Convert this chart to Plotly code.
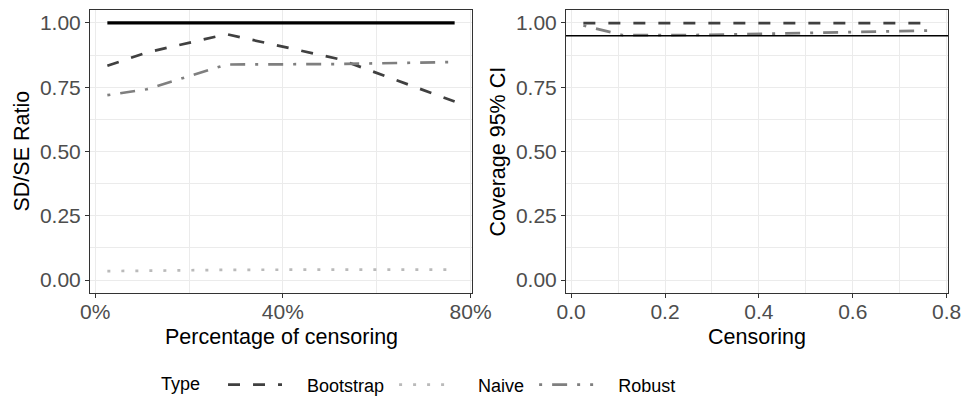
import plotly.graph_objects as go

# ---- data ----
censoring = [0.026, 0.11, 0.28, 0.52, 0.766]
types = ["Bootstrap", "Naive", "Robust"]
ratio_bootstrap = [0.833, 0.885, 0.956, 0.859, 0.694]
ratio_naive = [0.035, 0.037, 0.040, 0.041, 0.041]
ratio_robust = [0.719, 0.742, 0.838, 0.840, 0.848]
ratio_reference = [1.0, 1.0, 1.0, 1.0, 1.0]
cov_bootstrap = [0.999, 0.999, 0.999, 0.999, 0.999]
cov_robust = [0.990, 0.952, 0.953, 0.960, 0.970]
nominal_coverage = 0.95
y_ticks = [0.0, 0.25, 0.5, 0.75, 1.0]
x_ticks_left = [0.0, 0.4, 0.8]
x_ticks_right = [0.0, 0.2, 0.4, 0.6, 0.8]

colors = {"Bootstrap": "#404040", "Naive": "#BABABA", "Robust": "#7F7F7F"}
dashes = {"Bootstrap": "12px,13px", "Naive": "3px,11px", "Robust": "3px,10px,15px,10px"}
LW = 2.7
FONT = "Liberation Sans, Arial, Helvetica, sans-serif"
NB = "\u00a0"

W, H = 963, 406
fig = go.Figure()

left = {"Bootstrap": ratio_bootstrap, "Naive": ratio_naive, "Robust": ratio_robust}
for t in types:
    fig.add_trace(go.Scatter(x=censoring, y=left[t], mode="lines", name=NB * 4 + t + NB,
                             line=dict(color=colors[t], dash=dashes[t], width=LW),
                             xaxis="x", yaxis="y", legendgroup=t))
fig.add_trace(go.Scatter(x=censoring, y=ratio_reference, mode="lines", showlegend=False,
                         line=dict(color="black", width=3.2), xaxis="x", yaxis="y"))

right = {"Bootstrap": cov_bootstrap, "Robust": cov_robust}
for t in ["Bootstrap", "Robust"]:
    fig.add_trace(go.Scatter(x=censoring, y=right[t], mode="lines", name=t, showlegend=False,
                             line=dict(color=colors[t], dash=dashes[t], width=LW),
                             xaxis="x2", yaxis="y2", legendgroup=t))

fig.add_shape(type="line", xref="x2 domain", x0=0, x1=1, yref="y2",
              y0=nominal_coverage, y1=nominal_coverage, line=dict(color="black", width=1.3))

# layout geometry (pixels -> paper)
L1, R1 = 90, 472
L2, R2 = 566, 948
TOP, BOT = 10, 293
ydom = [1 - BOT / H, 1 - TOP / H]

xrange = [-0.011, 0.803]
yrange = [-0.05, 1.05]

common_axis = dict(showline=True, mirror=True, linecolor="#333333", linewidth=1.1,
                   ticks="outside", ticklen=4, tickcolor="#333333", tickwidth=1.1,
                   showgrid=True, gridcolor="#EBEBEB", gridwidth=1.1, zeroline=False,
                   automargin=False,
                   tickfont=dict(family=FONT, size=21, color="#4D4D4D"))

fig.update_layout(
    width=W, height=H, margin=dict(l=0, r=0, t=0, b=0, autoexpand=False),
    paper_bgcolor="white", plot_bgcolor="white",
    font=dict(family=FONT, color="black"),
    xaxis=dict(domain=[L1 / W, R1 / W], range=xrange, anchor="y",
               tickvals=x_ticks_left, tickformat=".0%", ticklabelstandoff=-4,
               minor=dict(dtick=0.2, tick0=0, showgrid=True, gridcolor="#EBEBEB", gridwidth=0.8),
               **common_axis),
    yaxis=dict(domain=ydom, range=yrange, anchor="x", tickvals=y_ticks, tickformat=".2f",
               minor=dict(dtick=0.125, tick0=0, showgrid=True, gridcolor="#EBEBEB", gridwidth=0.8),
               **common_axis),
    xaxis2=dict(domain=[L2 / W, R2 / W], range=xrange, anchor="y2",
                tickvals=x_ticks_right, tickformat=".1f", ticklabelstandoff=-4,
                minor=dict(dtick=0.1, tick0=0, showgrid=True, gridcolor="#EBEBEB", gridwidth=0.8),
                **common_axis),
    yaxis2=dict(domain=ydom, range=yrange, anchor="x2", tickvals=y_ticks, tickformat=".2f",
                minor=dict(dtick=0.125, tick0=0, showgrid=True, gridcolor="#EBEBEB", gridwidth=0.8),
                **common_axis),
    legend=dict(orientation="h", x=159 / W, xanchor="left", y=1 - 385 / H, yanchor="middle",
                title=dict(text="Type" + NB * 3, font=dict(family=FONT, size=18, color="black")),
                font=dict(family=FONT, size=18, color="black"),
                itemwidth=54, bgcolor="rgba(0,0,0,0)"),
    showlegend=True,
)

# axis titles as annotations
def ann(text, x, y, angle=0):
    fig.add_annotation(text=text, x=x / W, y=1 - y / H, xref="paper", yref="paper",
                       showarrow=False, textangle=angle, xanchor="center", yanchor="middle",
                       font=dict(family=FONT, size=21.5, color="black"))

ann("Percentage of censoring", (L1 + R1) / 2, 337)
ann("Censoring", (L2 + R2) / 2, 337)
ann("SD/SE Ratio", 22, (TOP + BOT) / 2, -90)
ann("Coverage 95% CI", 498, (TOP + BOT) / 2, -90)

fig.write_html("out.html")
